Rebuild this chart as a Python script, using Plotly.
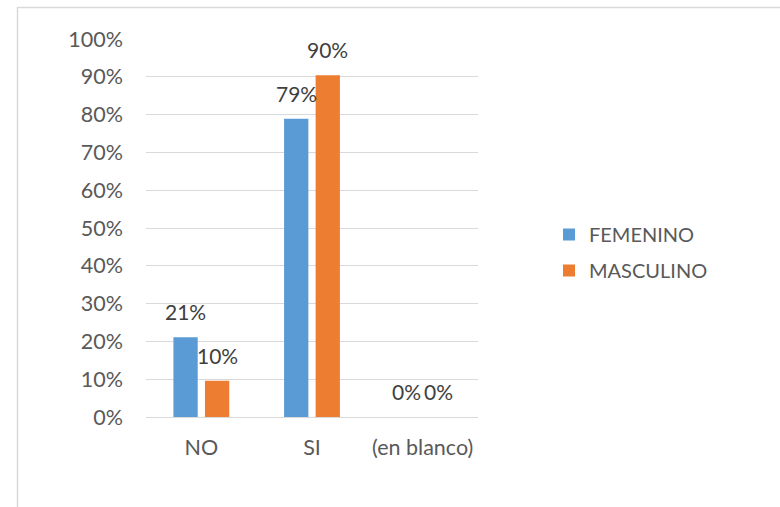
import plotly.graph_objects as go

# Survey answers by gender
categories = ["NO", "SI", "(en blanco)"]
femenino = [0.211, 0.789, 0.0]
masculino = [0.096, 0.904, 0.0]
series_names = ["FEMENINO", "MASCULINO"]
y_ticks = [0, 0.1, 0.2, 0.3, 0.4, 0.5, 0.6, 0.7, 0.8, 0.9, 1.0]

BLUE = "#5B9BD5"
ORANGE = "#ED7D31"
GRID = "#D9D9D9"
FONT = "Lato, Calibri, Carlito, sans-serif"

W, H = 780, 507
ML, MR, MT, MB = 146, 302, 39, 90
BARGAP, BARGROUPGAP = 0.43, 0.23

fig = go.Figure()
for name, vals, color in zip(series_names, [femenino, masculino], [BLUE, ORANGE]):
    fig.add_trace(go.Bar(
        x=categories, y=vals, name=name, marker_color=color,
        marker_line_width=0, legendgroup=name,
    ))

# Data labels above each bar ("outside end")
slot = (1 - BARGAP) / 2
annotations = []
for j, vals in enumerate([femenino, masculino]):
    for i, v in enumerate(vals):
        annotations.append(dict(
            x=i + (j - 0.5) * slot, y=v, xref="x", yref="y",
            text=f"{v:.0%}", showarrow=False, yanchor="bottom",
            yshift=11, font=dict(family=FONT, size=21, color="#404040"),
        ))

# Chart frame in pixel terms, converted to paper coordinates
pw, ph = W - ML - MR, H - MT - MB
def px_x(p):
    return (p - ML) / pw
def px_y(p):
    return (H - MB - p) / ph

fig.update_layout(
    width=W, height=H,
    margin=dict(l=ML, r=MR, t=MT, b=MB),
    paper_bgcolor="white", plot_bgcolor="white",
    barmode="group", bargap=BARGAP, bargroupgap=BARGROUPGAP,
    font=dict(family=FONT, size=21, color="#595959"),
    annotations=annotations,
    showlegend=True,
    legend=dict(
        x=px_x(549), y=px_y(252.5), xanchor="left", yanchor="middle",
        font=dict(family=FONT, size=20, color="#595959"),
        tracegroupgap=7, bgcolor="rgba(0,0,0,0)",
    ),
    shapes=[dict(
        type="rect", xref="paper", yref="paper",
        x0=px_x(17.5), x1=px_x(800), y0=px_y(530), y1=px_y(7.5),
        line=dict(color=GRID, width=1.5), layer="below",
    )],
)
fig.update_xaxes(
    type="category", showgrid=False, showline=False, zeroline=False,
    ticks="", ticklabelstandoff=15,
    tickfont=dict(family=FONT, size=21.5, color="#595959"),
)
fig.update_yaxes(
    range=[0, 1], tickvals=y_ticks, tickformat=".0%",
    showgrid=True, gridcolor=GRID, gridwidth=1.3,
    zeroline=True, zerolinecolor=GRID, zerolinewidth=1.3,
    showline=False, ticks="", ticklabelstandoff=22,
    tickfont=dict(family=FONT, size=21.5, color="#595959"),
)

fig.write_html("out.html")
